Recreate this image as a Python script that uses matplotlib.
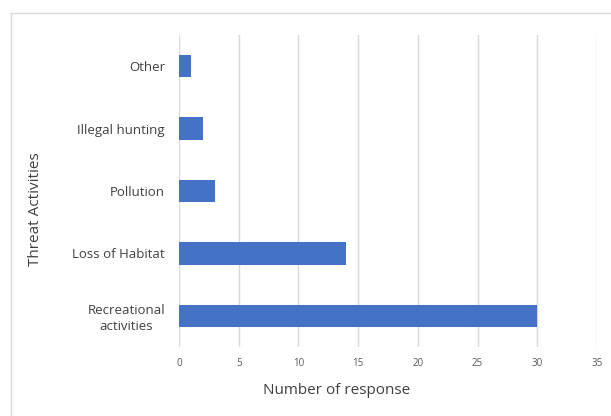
import matplotlib.pyplot as plt
from matplotlib.lines import Line2D

categories = ['Recreational\nactivities', 'Loss of Habitat', 'Pollution', 'Illegal hunting', 'Other']
responses = [30, 14, 3, 2, 1]
xticks = [0, 5, 10, 15, 20, 25, 30, 35]

plt.rcParams['font.family'] = ['Open Sans', 'DejaVu Sans']

fig = plt.figure(figsize=(6.11, 4.16), dpi=100)
ax = fig.add_axes([179 / 611, 1 - 347 / 416, (597 - 179) / 611, (347 - 35) / 416])

ax.barh(range(len(categories)), responses, height=0.36, color='#4472C4', zorder=3)

ax.set_xlim(0, 35)
ax.set_ylim(-0.5, len(categories) - 0.5)
ax.set_xticks(xticks)
ax.set_xticklabels([str(t) for t in xticks], fontsize=7, color='#595959')
ax.set_yticks(range(len(categories)))
ax.set_yticklabels(categories, fontsize=9.5, color='#404040', linespacing=1.3)
for lbl in ax.get_yticklabels():
    lbl.set_multialignment('center')
ax.tick_params(axis='both', length=0)
ax.tick_params(axis='x', pad=8)
ax.tick_params(axis='y', pad=10)

ax.grid(axis='x', color='#d9d9d9', linewidth=1, zorder=0)
for s in ax.spines.values():
    s.set_visible(False)

ax.set_xlabel('Number of response', fontsize=11, color='#404040')
ax.xaxis.set_label_coords(0.376, -0.115)
ax.set_ylabel('Threat Activities', fontsize=11, color='#404040')
ax.yaxis.set_label_coords(-0.326, 0.442)

# outer chart frame
fig.add_artist(Line2D([10.5 / 611, 10.5 / 611], [0, 1 - 12.5 / 416], transform=fig.transFigure, color='#d9d9d9', lw=1))
fig.add_artist(Line2D([10.5 / 611, 1], [1 - 12.5 / 416, 1 - 12.5 / 416], transform=fig.transFigure, color='#d9d9d9', lw=1))

fig.savefig('out.png', dpi=100)
